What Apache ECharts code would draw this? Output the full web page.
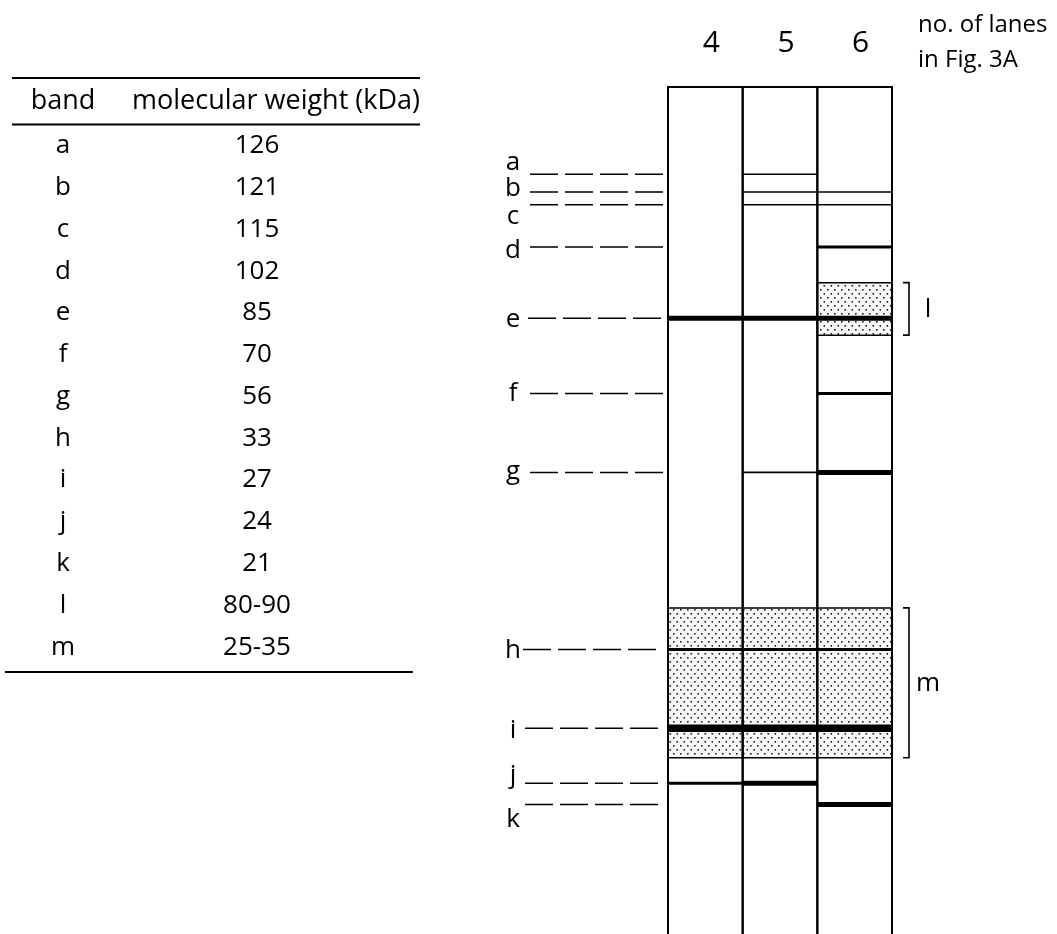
<!DOCTYPE html>
<html><head><meta charset="utf-8">
<script src="https://cdn.jsdelivr.net/npm/echarts@6/dist/echarts.min.js"></script>
<style>html,body{margin:0;padding:0;background:#fff}#c{width:1057px;height:934px}</style>
</head><body><div id="c"></div>
<script>
// ---------- data ----------
const tableHeaders = ['band', 'molecular weight (kDa)'];
const tableBands = ['a','b','c','d','e','f','g','h','i','j','k','l','m'];
const molecularWeights = ['126','121','115','102','85','70','56','33','27','24','21','80-90','25-35'];

const laneNumbers = ['4','5','6'];
const discreteBands = ['a','b','c','d','e','f','g','h','i','j','k'];
// migration distance from top of gel (arbitrary units, 0-100)
const migration = [10.3, 12.4, 13.9, 18.9, 27.3, 36.2, 45.5, 66.4, 75.7, 82.2, 84.7];
// band intensity per lane (0 = absent, 1 faint ... 4 strongest)
const lane4Intensity = [0,0,0,0,3,0,0,2,4,2,0];
const lane5Intensity = [1,1,1,0,3,0,1,2,4,3,0];
const lane6Intensity = [0,1,1,2,3,2,3,2,4,0,3];

const smearNames = ['l','m'];
const smearTop = [23.1, 61.5];
const smearBottom = [29.3, 79.2];
const smearLanes = [[2], [0,1,2]];

const cornerNote = 'no. of lanes\nin Fig. 3A';

// ---------- helpers ----------
const FONT = '"Open Sans", "DejaVu Sans", sans-serif';
const INK = '#000';
const W = 500;

function makeStipple() {
  const c = document.createElement('canvas');
  c.width = 7; c.height = 8;
  const g = c.getContext('2d');
  g.fillStyle = '#f8f8f8'; g.fillRect(0,0,7,8);
  g.fillStyle = '#1e1e1e';
  g.fillRect(1,1,1.6,1.6);
  g.fillRect(4.5,5,1.6,1.6);
  return c;
}
const stipple = makeStipple();

const intensityRows = [lane4Intensity, lane5Intensity, lane6Intensity];
const bandData = [];
intensityRows.forEach((row, lane) => {
  row.forEach((lvl, b) => { if (lvl > 0) bandData.push([lane, migration[b], lvl]); });
});
const smearData = [];
smearNames.forEach((n, s) => {
  smearLanes[s].forEach(l => smearData.push([l, smearTop[s], smearBottom[s]]));
});
const bracketData = smearNames.map((n, s) => [smearTop[s], smearBottom[s], n]);
const leaderData = discreteBands.map((n, i) => [migration[i], n]);
const laneFrameData = laneNumbers.map((n, i) => [i]);

const widthByLevel = [0, 1.6, 3, 5, 7.5];
const letterDy = {a:-12, b:-3, c:12, d:4, e:1, f:0, g:-1, h:1, i:2, j:-8, k:15};
const leaderStart = {a:530, b:530, c:530, d:530, e:528, f:530, g:530, h:523, i:525, j:525, k:525};

const chart = echarts.init(document.getElementById('c'));
chart.setOption({
  animation: false,
  backgroundColor: '#fff',
  title: {
    text: cornerNote, left: 913, top: 3,
    textStyle: {fontFamily: FONT, fontSize: 24, fontWeight: W, color: INK, lineHeight: 35}
  },
  grid: [
    {left: -43.5, width: 426, top: 125, height: 543, outerBoundsMode: 'none', containLabel: false},
    {left: 668, width: 224, top: 87, height: 847, outerBoundsMode: 'none', containLabel: false}
  ],
  xAxis: [
    {gridIndex: 0, type: 'category', data: tableHeaders, position: 'top',
     axisLine: {show: false}, axisTick: {show: false},
     axisLabel: {fontFamily: FONT, fontSize: 27, fontWeight: W, color: INK, margin: 10, interval: 0}},
    {gridIndex: 1, type: 'value', min: 0, max: 3, show: false},
    {gridIndex: 1, type: 'category', data: laneNumbers, position: 'top',
     axisLine: {show: false}, axisTick: {show: false}, splitLine: {show: false},
     axisLabel: {fontFamily: FONT, fontSize: 30, fontWeight: W, color: INK, margin: 29, interval: 0,
       padding: [0, 0, 0, 12]}}
  ],
  yAxis: [
    {gridIndex: 0, type: 'category', data: tableBands, inverse: true, show: false},
    {gridIndex: 1, type: 'value', min: 0, max: 100, inverse: true, show: false}
  ],
  graphic: [
    {type: 'line', shape: {x1: 12, y1: 78, x2: 420, y2: 78}, style: {stroke: INK, lineWidth: 2}},
    {type: 'line', shape: {x1: 12, y1: 124.5, x2: 420, y2: 124.5}, style: {stroke: INK, lineWidth: 2}},
    {type: 'line', shape: {x1: 5, y1: 672, x2: 413, y2: 672}, style: {stroke: INK, lineWidth: 2}}
  ],
  series: [
    {
      type: 'scatter', xAxisIndex: 0, yAxisIndex: 0, symbolSize: 1,
      itemStyle: {color: 'rgba(0,0,0,0)', opacity: 1},
      data: tableBands.map((b, i) => [0, i]),
      label: {show: true, position: 'inside', formatter: p => tableBands[p.dataIndex],
        fontFamily: FONT, fontSize: 26, fontWeight: W, color: INK}
    },
    {
      type: 'scatter', xAxisIndex: 0, yAxisIndex: 0, symbolSize: 1,
      itemStyle: {color: 'rgba(0,0,0,0)', opacity: 1},
      data: molecularWeights.map((m, i) => [1, i]),
      label: {show: true, position: 'inside', offset: [-19, 0], formatter: p => molecularWeights[p.dataIndex],
        fontFamily: FONT, fontSize: 26, fontWeight: W, color: INK}
    },
    // stippled smears
    {
      type: 'custom', xAxisIndex: 1, yAxisIndex: 1, data: smearData, z: 1,
      renderItem: (params, api) => {
        const p0 = api.coord([api.value(0), api.value(1)]);
        const p1 = api.coord([api.value(0) + 1, api.value(2)]);
        return {type: 'rect', shape: {x: p0[0], y: p0[1], width: p1[0] - p0[0], height: p1[1] - p0[1]},
          style: {fill: {image: stipple, repeat: 'repeat'}, stroke: INK, lineWidth: 1.5}};
      }
    },
    // bands
    {
      type: 'custom', xAxisIndex: 1, yAxisIndex: 1, data: bandData, z: 3,
      renderItem: (params, api) => {
        const w = widthByLevel[api.value(2)];
        const p0 = api.coord([api.value(0), api.value(1)]);
        const p1 = api.coord([api.value(0) + 1, api.value(1)]);
        return {type: 'rect', shape: {x: p0[0], y: p0[1] - w / 2, width: p1[0] - p0[0], height: w},
          style: {fill: INK}};
      }
    },
    // lane frame
    {
      type: 'custom', xAxisIndex: 1, yAxisIndex: 1, data: laneFrameData, z: 4,
      renderItem: (params, api) => {
        const l = api.value(0);
        const a = api.coord([l, 100]), b = api.coord([l, 0]);
        const c = api.coord([l + 1, 0]), d = api.coord([l + 1, 100]);
        return {type: 'polyline', shape: {points: [a, b, c, d]},
          style: {stroke: INK, lineWidth: 2, fill: null}};
      }
    },
    // dashed leaders + letters
    {
      type: 'custom', xAxisIndex: 1, yAxisIndex: 1, data: leaderData, z: 4,
      renderItem: (params, api) => {
        const name = discreteBands[params.dataIndex];
        const p = api.coord([0, api.value(0)]);
        const x0 = leaderStart[name];
        return {type: 'group', children: [
          {type: 'line', shape: {x1: x0, y1: p[1], x2: p[0] - 5, y2: p[1]},
            style: {stroke: INK, lineWidth: 1.5, lineDash: [28, 7]}},
          {type: 'text', style: {text: name, x: 513, y: p[1] + letterDy[name], align: 'center',
            verticalAlign: 'middle', font: W + ' 26px ' + FONT, fill: INK}}
        ]};
      }
    },
    // brackets for smears
    {
      type: 'custom', xAxisIndex: 1, yAxisIndex: 1, data: bracketData, z: 4,
      renderItem: (params, api) => {
        const t = api.coord([3, api.value(0)]), b = api.coord([3, api.value(1)]);
        const x1 = t[0] + 11, x2 = t[0] + 17;
        return {type: 'group', children: [
          {type: 'polyline', shape: {points: [[x1, t[1]], [x2, t[1]], [x2, b[1]], [x1, b[1]]]},
            style: {stroke: INK, lineWidth: 1.6, fill: null}},
          {type: 'text', style: {text: smearNames[params.dataIndex], x: t[0] + 36, y: (t[1] + b[1]) / 2 + 1,
            align: 'center', verticalAlign: 'middle', font: W + ' 26px ' + FONT, fill: INK}}
        ]};
      }
    }
  ]
});
</script>
</body></html>
